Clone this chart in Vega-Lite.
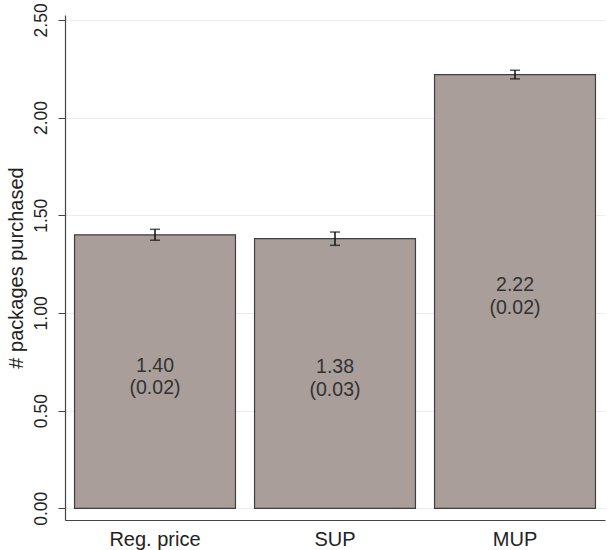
{
  "$schema": "https://vega.github.io/schema/vega-lite/v6.json",
  "width": 540,
  "height": 505,
  "autosize": "none",
  "padding": {"left": 65, "top": 15, "right": 2, "bottom": 30},
  "background": "white",
  "config": {
    "view": {"stroke": null},
    "font": "Liberation Sans",
    "axis": {"labelFont": "Liberation Sans", "titleFont": "Liberation Sans", "labelColor": "#222", "titleColor": "#222", "domainColor": "#444", "tickColor": "#444"}
  },
  "data": {
    "values": [
      {"group": "Reg. price", "mean": 1.40, "lo": 1.372, "hi": 1.428, "label": "1.40\n(0.02)"},
      {"group": "SUP", "mean": 1.38, "lo": 1.346, "hi": 1.414, "label": "1.38\n(0.03)"},
      {"group": "MUP", "mean": 2.22, "lo": 2.198, "hi": 2.242, "label": "2.22\n(0.02)"}
    ]
  },
  "encoding": {
    "x": {
      "field": "group", "type": "nominal", "sort": null,
      "scale": {"paddingInner": 0.106, "paddingOuter": 0.053},
      "axis": {"title": null, "labelAngle": 0, "labelFontSize": 20, "ticks": false, "labelPadding": 9, "domainWidth": 1.2}
    }
  },
  "layer": [
    {
      "mark": {"type": "bar", "color": "#a99e9a", "stroke": "#3f3f3f", "strokeWidth": 1.2},
      "encoding": {
        "y": {
          "field": "mean", "type": "quantitative",
          "scale": {"domain": [-0.06, 2.525], "nice": false, "zero": false},
          "axis": {
            "title": "# packages purchased", "titleFontSize": 20, "titleFontWeight": "normal", "titlePadding": 6,
            "values": [0, 0.5, 1, 1.5, 2, 2.5], "format": ".2f",
            "labelAngle": 270, "labelAlign": "center", "labelBaseline": "bottom", "labelFontSize": 17.5, "labelPadding": 8,
            "tickSize": 7, "grid": true, "gridColor": "#e6eef0", "gridWidth": 1, "domainWidth": 1.2
          }
        },
        "y2": {"datum": 0}
      }
    },
    {
      "mark": {"type": "rule", "color": "#111", "strokeWidth": 1.5},
      "encoding": {"y": {"field": "lo", "type": "quantitative"}, "y2": {"field": "hi"}}
    },
    {
      "mark": {"type": "tick", "color": "#111", "size": 10, "thickness": 1.5},
      "encoding": {"y": {"field": "lo", "type": "quantitative"}}
    },
    {
      "mark": {"type": "tick", "color": "#111", "size": 10, "thickness": 1.5},
      "encoding": {"y": {"field": "hi", "type": "quantitative"}}
    },
    {
      "transform": [{"calculate": "datum.mean / 2", "as": "mid"}],
      "mark": {"type": "text", "fontSize": 19.5, "color": "#333", "lineBreak": "\n", "lineHeight": 22.5, "baseline": "middle", "dy": -6},
      "encoding": {
        "y": {"field": "mid", "type": "quantitative"},
        "text": {"field": "label"}
      }
    }
  ]
}
